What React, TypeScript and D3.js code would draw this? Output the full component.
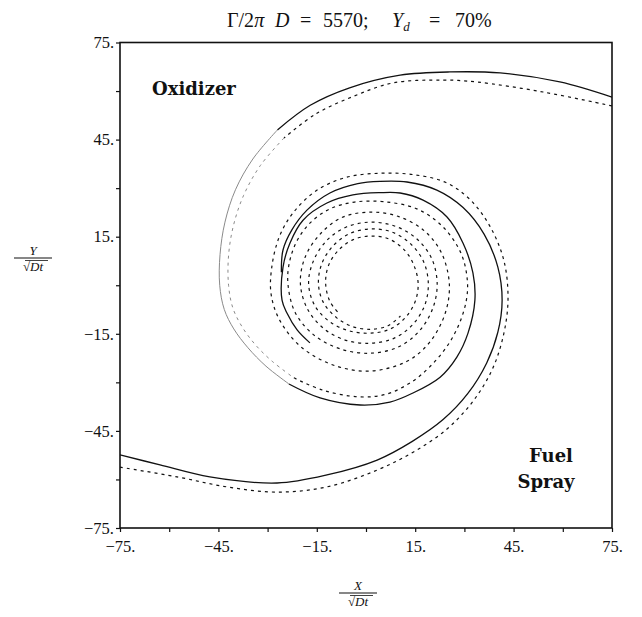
import React, { useEffect, useRef } from 'react';
import * as d3 from 'd3';

const W = 642;
const H = 617;

// tick positions and labelled ticks (both axes)
const tickValues = [-75, -60, -45, -30, -15, 0, 15, 30, 45, 60, 75];
const labelValues = [-75, -45, -15, 15, 45, 75];

// solid arm coming in from the lower-left edge
const solidA: [number, number][] = [
  [-75, -52.4], [-62.8, -55.5], [-47.6, -59.2], [-27.1, -61.1], [-11.9, -58.6],
  [3.4, -54], [14, -48.3], [23.5, -41.5], [31, -33.5], [36.8, -24],
  [40.2, -14.5], [41.5, -4.6], [40.2, 5.6], [36, 15.8], [29.6, 24],
  [21.6, 29.4], [12.5, 31.9], [4.3, 32.1], [-2.5, 31.4], [-11, 28.5],
  [-18, 23.2], [-22.6, 17.1], [-25.3, 10.9], [-25.8, 4],
];

// solid arm coming in from the upper-right edge
const solidB: [number, number][] = [
  [75, 58.1], [59.1, 62.8], [40.9, 65.6], [25.6, 65.9], [10.4, 64.9],
  [-5, 61], [-17, 55.6], [-27, 48], [-34.5, 39], [-39.8, 29.5],
  [-43, 19.5], [-44.5, 9.5], [-44.6, 0], [-43.2, -7.5], [-40.3, -13.5],
  [-36, -19.3], [-30.5, -25], [-23.5, -30.5], [-14, -34.8], [-1.8, -37],
  [7.3, -36.1], [14.3, -33.3], [22.6, -28.4], [27.7, -22.2], [31.1, -14.8],
  [33.2, -4.6], [32.6, 3.8], [29.6, 13], [24.7, 21.1], [17.4, 26.3],
  [10.4, 28.5], [4.3, 28.6], [-4, 27.9], [-11.9, 25.4], [-19.2, 20.1],
  [-23.2, 13], [-25.3, 5.6], [-25.6, -4.6], [-24.1, -8.6], [-21, -13.8],
  [-17.1, -17.8],
];

// dashed arm outside solidA, winding into the core
const dashedA: [number, number][] = [
  [-75, -56.2], [-57.6, -59.2], [-42.4, -62.3], [-27.1, -63.9], [-11.9, -62.3],
  [3.4, -57.1], [14.5, -51.5], [24.5, -44.6], [32.5, -36], [38.5, -26],
  [42, -15], [43.3, -4], [42, 7.8], [37.8, 18.2], [31.7, 26.5],
  [24.2, 31.8], [14.3, 34.2], [4.3, 34.6], [-5.8, 33.4], [-14.9, 29.4],
  [-22.3, 22.3], [-26.6, 14.5], [-28.8, 5], [-28.9, -3], [-26.2, -11],
  [-19.4, -19.4], [-9, -25], [1.5, -26.5], [12.5, -23.5], [19.5, -17.5],
  [24.2, -8.5], [25.4, 0.5], [23, 10], [17.8, 16.8], [10, 21.2],
  [1.5, 22.6], [-7.2, 21], [-13.9, 15.9], [-18.6, 8.6], [-20, 0.5],
  [-17.8, -7.4], [-12.6, -13.6], [-5.8, -17.1], [1.5, -17.9], [8.5, -16.4],
  [14.2, -12.2], [17.9, -6.2], [19, 0.5], [17.6, 7.2], [13.7, 12.7],
  [8, 16.4], [1.5, 17.4], [-4.9, 16], [-10.1, 12.1], [-13.5, 6.6],
  [-14.5, 0.5], [-13, -5.3], [-9, -10], [-4, -12.8], [1.5, -13.6],
  [6.7, -12.5], [10.5, -9.5],
];

// dashed arm inside solidB, winding into the core
const dashedB: [number, number][] = [
  [75, 55.4], [54, 59.7], [33.8, 62.8], [23.5, 63.4], [8.2, 62.5],
  [-4, 58.3], [-15.5, 52.8], [-25, 45.5], [-32.2, 37], [-37.3, 27.8],
  [-40.4, 18.5], [-41.9, 9.2], [-41.9, 0], [-40.6, -7], [-37.8, -12.8],
  [-33.8, -18.3], [-28.6, -23.5], [-22, -28.6], [-13.2, -32.4], [-1.8, -34.5],
  [6.4, -33.6], [14.3, -29.6], [20.4, -24.2], [25.4, -17.8], [28.7, -11.2],
  [30.6, -4.6], [30.9, 1.5], [29, 9.8], [23.5, 18], [15.5, 23.6],
  [5.5, 25.8], [-3.5, 25.7], [-11, 23.6], [-17.1, 19.2], [-21.2, 13.4],
  [-23.4, 6.8], [-23.8, 0.5], [-21.6, -8.4], [-15.6, -15.6], [-7.4, -19.8],
  [1.5, -21], [10, -19], [16.2, -14.2], [20.3, -7.3], [21.7, 0.5],
  [20, 8.3], [15.4, 14.4], [9, 18.2], [1.5, 19.5], [-6, 18],
  [-11.9, 13.9], [-16, 7.6], [-17.5, 0.5], [-15.5, -6.5], [-10.6, -11.6],
  [-4.7, -14.2], [1.5, -14.8], [7.2, -13.6], [12, -10], [15, -5],
  [15.9, 0.5], [14.6, 6.2], [11.8, 10.8], [7, 14.3], [1.5, 15.2],
  [-3.9, 14.1], [-8.6, 10.6], [-11.5, 5.9], [-12.3, 0.5], [-11, -5],
  [-8, -9],
];

// the upper-left part of both outer arms is printed faintly in the original
const faintFrom = 7;
const faintTo = 17;

const SERIF = '"Liberation Serif", "DejaVu Serif", serif';
const BOLD = '"DejaVu Serif", "Liberation Serif", serif';

const fmt = (v: number) => (labelValues.includes(v) ? `${v < 0 ? '\u2212' : ''}${Math.abs(v)}.` : '');

export default function App() {
  const svgRef = useRef<SVGSVGElement>(null);

  useEffect(() => {
    const svg = d3.select(svgRef.current);
    svg.selectAll('*').remove();

    const margin = { top: 42.5, right: 30, bottom: 89, left: 120 };
    const innerWidth = W - margin.left - margin.right;
    const innerHeight = H - margin.top - margin.bottom;

    const xScale = d3.scaleLinear().domain([-75, 75]).range([0, innerWidth]);
    const yScale = d3.scaleLinear().domain([-75, 75]).range([innerHeight, 0]);

    const g = svg.append('g').attr('transform', `translate(${margin.left},${margin.top})`);

    g.append('clipPath').attr('id', 'plotClip')
      .append('rect').attr('width', innerWidth).attr('height', innerHeight);

    const line = d3.line<[number, number]>()
      .x(d => xScale(d[0]))
      .y(d => yScale(d[1]))
      .curve(d3.curveCatmullRom.alpha(0.5));

    const curves = g.append('g').attr('clip-path', 'url(#plotClip)');

    const drawArm = (arr: [number, number][], dashed: boolean, faint: boolean) => {
      const w = dashed ? 1.2 : 1.3;
      const parts = faint
        ? [
            { pts: arr.slice(0, faintFrom + 1), color: '#111', w },
            { pts: arr.slice(faintFrom, faintTo + 1), color: '#8a8a8a', w: 1.0 },
            { pts: arr.slice(faintTo), color: '#111', w },
          ]
        : [{ pts: arr, color: '#111', w }];
      parts.forEach(p => {
        curves.append('path')
          .attr('d', line(p.pts))
          .attr('fill', 'none')
          .attr('stroke', p.color)
          .attr('stroke-width', p.w)
          .attr('stroke-dasharray', dashed ? '3,4' : null);
      });
    };

    drawArm(dashedA, true, false);
    drawArm(dashedB, true, true);
    drawArm(solidA, false, false);
    drawArm(solidB, false, true);

    // axes
    const xAxis = g.append('g')
      .attr('transform', `translate(0,${innerHeight})`)
      .call(d3.axisBottom(xScale).tickValues(tickValues).tickFormat(d => fmt(+d)).tickSize(4).tickPadding(8));
    const yAxis = g.append('g')
      .call(d3.axisLeft(yScale).tickValues(tickValues).tickFormat(d => fmt(+d)).tickSize(4).tickPadding(2));

    [xAxis, yAxis].forEach(ax => {
      ax.select('.domain').remove();
      ax.selectAll('line').attr('stroke', '#111').attr('stroke-width', 1.2);
      ax.selectAll('text')
        .style('font-family', SERIF)
        .style('font-size', '16.5px')
        .attr('fill', '#111');
    });

    // frame
    g.append('rect')
      .attr('width', innerWidth)
      .attr('height', innerHeight)
      .attr('fill', 'none')
      .attr('stroke', '#111')
      .attr('stroke-width', 1.6);

    // region labels
    g.append('text')
      .attr('x', 32)
      .attr('y', 52.5)
      .style('font-family', BOLD)
      .style('font-size', '18px')
      .style('font-weight', 'bold')
      .attr('fill', '#111')
      .text('Oxidizer');

    const fuel = g.append('text')
      .style('font-family', BOLD)
      .style('font-size', '18px')
      .style('font-weight', 'bold')
      .attr('text-anchor', 'middle')
      .attr('fill', '#111');
    fuel.append('tspan').attr('x', 431).attr('y', 419.5).text('Fuel');
    fuel.append('tspan').attr('x', 426).attr('y', 445.5).text('Spray');

    // title, pieces placed as in the typeset original
    const title = svg.append('text')
      .attr('y', 27)
      .style('font-family', SERIF)
      .style('font-size', '20px')
      .attr('fill', '#111');
    title.append('tspan').attr('x', 227).text('\u0393/2');
    title.append('tspan').style('font-style', 'italic').text('\u03c0');
    title.append('tspan').attr('x', 275).style('font-style', 'italic').text('D');
    title.append('tspan').attr('x', 300).text('=');
    title.append('tspan').attr('x', 323).text('5570;');
    title.append('tspan').attr('x', 392).style('font-style', 'italic').text('Y');
    title.append('tspan').style('font-style', 'italic').style('font-size', '13px').attr('dy', 4).text('d');
    title.append('tspan').attr('x', 429).attr('dy', -4).text('=');
    title.append('tspan').attr('x', 455).text('70%');

    // axis labels as fractions  X / sqrt(Dt)
    const fraction = (cx: number, lineY: number, top: string) => {
      const fg = svg.append('g');
      fg.append('text')
        .attr('x', cx).attr('y', lineY - 3)
        .attr('text-anchor', 'middle')
        .style('font-family', SERIF).style('font-size', '13px').style('font-style', 'italic')
        .attr('fill', '#111').text(top);
      fg.append('line')
        .attr('x1', cx - 19).attr('x2', cx + 19)
        .attr('y1', lineY).attr('y2', lineY)
        .attr('stroke', '#111').attr('stroke-width', 1.1);
      fg.append('text')
        .attr('x', cx).attr('y', lineY + 13)
        .attr('text-anchor', 'middle')
        .style('font-family', SERIF).style('font-size', '13px').style('font-style', 'italic')
        .attr('fill', '#111').text('\u221aDt');
      fg.append('line')
        .attr('x1', cx - 8).attr('x2', cx + 15)
        .attr('y1', lineY + 2.5).attr('y2', lineY + 2.5)
        .attr('stroke', '#111').attr('stroke-width', 0.8);
    };
    fraction(33, 258, 'Y');
    fraction(358, 593, 'X');
  }, []);

  return (
    <svg
      ref={svgRef}
      width={W}
      height={H}
      style={{ position: 'absolute', left: 0, top: 0, background: '#fff' }}
    />
  );
}
